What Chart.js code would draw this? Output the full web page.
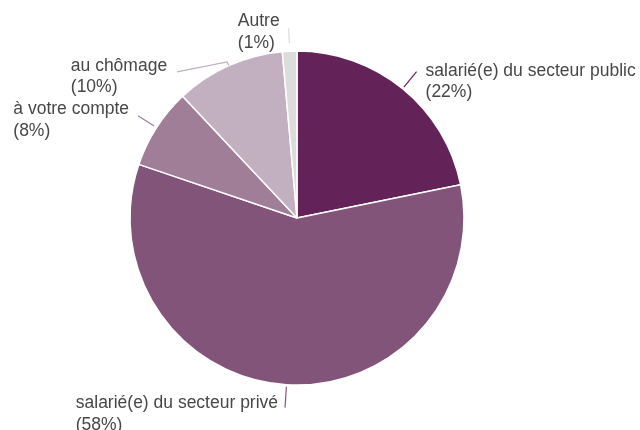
<!DOCTYPE html>
<html>
<head>
<meta charset="utf-8">
<script src="https://cdn.jsdelivr.net/npm/chart.js@4"></script>
<style>
  html, body { margin: 0; padding: 0; background: #ffffff; }
  #wrap { width: 640px; height: 430px; position: relative; }
</style>
</head>
<body>
<div id="wrap"><canvas id="c" width="640" height="430"></canvas></div>
<script>
// ---- Data ----
const categories = [
  "salarié(e) du secteur public",
  "salarié(e) du secteur privé",
  "à votre compte",
  "au chômage",
  "Autre"
];
const shares = [21.8, 58.4, 7.8, 10.6, 1.4];
const shareLabels = ["(22%)", "(58%)", "(8%)", "(10%)", "(1%)"];

// ---- Styles ----
const sliceColors = ["#632359", "#82547a", "#a07e97", "#c2b0c1", "#dcdcdc"];
const leaderStyles = [
  { r0: 2, r1: 22, dx: 9, dy: -0.5, align: "left" },
  { r0: 2, r1: 23, dx: -7, dy: -4, align: "right" },
  { r0: 3, r1: 22, dx: -9, dy: -6.5, align: "right" },
  { r0: 0, r1: 4, tail: [-50, 10], dx: -10, dy: -6, align: "right" },
  { r0: 8, r1: 23, dx: -9, dy: -7, align: "right" }
];

const labelPlugin = {
  id: "leaderLabels",
  afterDraw(chart) {
    const ctx = chart.ctx;
    const meta = chart.getDatasetMeta(0);
    ctx.save();
    ctx.font = "17.5px 'Liberation Sans', Arial, sans-serif";
    ctx.textBaseline = "middle";
    ctx.textAlign = "left";
    meta.data.forEach((arc, i) => {
      const st = leaderStyles[i];
      const mid = (arc.startAngle + arc.endAngle) / 2;
      const R = arc.outerRadius;
      const x0 = arc.x + Math.cos(mid) * (R + st.r0);
      const y0 = arc.y + Math.sin(mid) * (R + st.r0);
      let ex = arc.x + Math.cos(mid) * (R + st.r1);
      let ey = arc.y + Math.sin(mid) * (R + st.r1);
      ctx.beginPath();
      ctx.moveTo(x0, y0);
      ctx.lineTo(ex, ey);
      if (st.tail) {
        ex += st.tail[0];
        ey += st.tail[1];
        ctx.lineTo(ex, ey);
      }
      ctx.strokeStyle = sliceColors[i];
      ctx.lineWidth = 1.2;
      ctx.stroke();
      ctx.fillStyle = "#474747";
      const w = Math.max(ctx.measureText(categories[i]).width, ctx.measureText(shareLabels[i]).width);
      const tx = st.align === "left" ? ex + st.dx : ex + st.dx - w;
      const ty = ey + st.dy;
      ctx.fillText(categories[i], tx, ty);
      ctx.fillText(shareLabels[i], tx, ty + 21.5);
    });
    ctx.restore();
  }
};

new Chart(document.getElementById("c"), {
  type: "pie",
  data: {
    labels: categories,
    datasets: [{
      data: shares,
      backgroundColor: sliceColors,
      borderColor: "#ffffff",
      borderWidth: 1.5,
      radius: 167
    }]
  },
  options: {
    responsive: false,
    animation: false,
    layout: { padding: { left: 0, right: 46, top: 6, bottom: 0 } },
    plugins: {
      legend: { display: false },
      tooltip: { enabled: false }
    }
  },
  plugins: [labelPlugin]
});
</script>
</body>
</html>
